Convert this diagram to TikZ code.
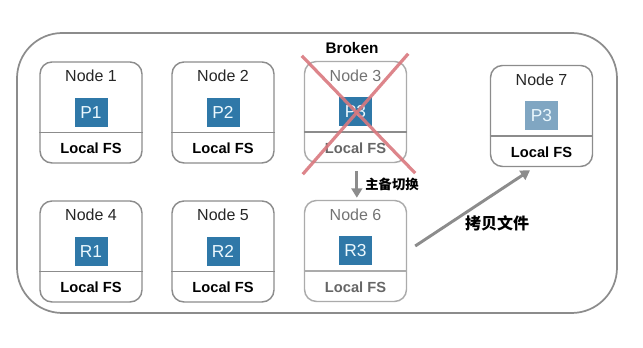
\documentclass[tikz,border=0pt]{standalone}
\usepackage{fontspec}
\setmainfont{Liberation Sans}
\newfontfamily\cjk{Noto Sans CJK SC}
\usetikzlibrary{arrows.meta}
\definecolor{partBlue}{HTML}{2F78A8}
\definecolor{partFaded}{HTML}{80A6C2}
\definecolor{lineGray}{HTML}{8C8C8C}
\definecolor{softGray}{HTML}{ABABAB}
\definecolor{crossRed}{HTML}{D9787E}
\begin{document}
\begin{tikzpicture}[x=0.75pt,y=-0.75pt,
    srvBox/.style={rectangle,rounded corners=9pt,draw=lineGray,line width=1.1pt,minimum width=76.5pt,minimum height=75.75pt},
    srvTitle/.style={font=\fontsize{12}{14}\selectfont,text=black!85},
    fsLabel/.style={font=\bfseries\fontsize{11}{13}\selectfont},
    partBox/.style={rectangle,fill=partBlue,text=cyan!8,minimum width=24.75pt,minimum height=21.75pt,inner sep=0pt,font=\fontsize{13}{15}\selectfont},
    grayArrow/.style={-{Triangle[length=7pt,width=8pt]},draw=lineGray,line width=2.2pt},
    cjkLabel/.style={font=\cjk\bfseries\fontsize{10}{12}\selectfont},
]
\useasboundingbox (0,0) rectangle (643,348);
% cluster frame
\draw[lineGray,line width=1.3pt,rounded corners=34pt] (17,33) rectangle (617,313);
% healthy nodes
\foreach \nm/\px/\py/\ttl/\prt in {node1/91/112.5/Node 1/P1,node2/223/112.5/Node 2/P2,node4/91/251.5/Node 4/R1,node5/223/251.5/Node 5/R2}{
  \node[srvBox] (\nm) at (\px,\py) {};
  \draw[lineGray,line width=1.1pt] ([yshift=23.25pt]\nm.south west) -- ([yshift=23.25pt]\nm.south east);
  \node[srvTitle] at ([yshift=-11.25pt]\nm.north) {\ttl};
  \node[fsLabel] at ([yshift=11.25pt]\nm.south) {Local FS};
  \node[partBox] at (\nm.center) {\prt};
}
% broken node
\node[srvBox,draw=softGray] (node3) at (355.5,112) {};
\draw[lineGray,line width=1.1pt] ([yshift=23.25pt]node3.south west) -- ([yshift=23.25pt]node3.south east);
\node[srvTitle,text=black!55] at ([yshift=-11.25pt]node3.north) {Node 3};
\node[fsLabel,text=black!60] at ([yshift=11.25pt]node3.south) {Local FS};
\node[partBox] at (node3.center) {P3};
\node[font=\bfseries\fontsize{11.5}{13}\selectfont] (broken) at (352,48) {Broken};
\draw[crossRed,line width=2.4pt,opacity=0.9] ([xshift=-1.5pt,yshift=3.75pt]node3.north west) -- ([xshift=6pt,yshift=-7.5pt]node3.south east);
\draw[crossRed,line width=2.4pt,opacity=0.9] ([xshift=0.75pt,yshift=5.25pt]node3.north east) -- ([xshift=-0.75pt,yshift=-8.25pt]node3.south west);
% standby node
\node[srvBox,draw=softGray] (node6) at (355.5,251) {};
\draw[softGray,line width=1.1pt] ([yshift=23.25pt]node6.south west) -- ([yshift=23.25pt]node6.south east);
\node[srvTitle,text=black!55] at ([yshift=-11.25pt]node6.north) {Node 6};
\node[fsLabel,text=black!60] at ([yshift=11.25pt]node6.south) {Local FS};
\node[partBox] at (node6.center) {R3};
% new node
\node[srvBox] (node7) at (541.5,116) {};
\draw[lineGray,line width=1.1pt] ([yshift=23.25pt]node7.south west) -- ([yshift=23.25pt]node7.south east);
\node[srvTitle] at ([yshift=-11.25pt]node7.north) {Node 7};
\node[fsLabel] at ([yshift=11.25pt]node7.south) {Local FS};
\node[partBox,fill=partFaded] at (node7.center) {P3};
% failover and copy
\draw[grayArrow] ([xshift=1pt,yshift=-6pt]node3.south) -- ([xshift=1pt,yshift=1.5pt]node6.north) node[midway,right=2pt,cjkLabel,text=black] {主备切换};
\draw[grayArrow] ([xshift=6pt,yshift=3.75pt]node6.east) -- ([xshift=-8.6pt,yshift=-2.25pt]node7.south);
\node[cjkLabel,font=\cjk\bfseries\fontsize{12}{14}\selectfont] (copyLabel) at (497,223) {拷贝文件};
\end{tikzpicture}
\end{document}
